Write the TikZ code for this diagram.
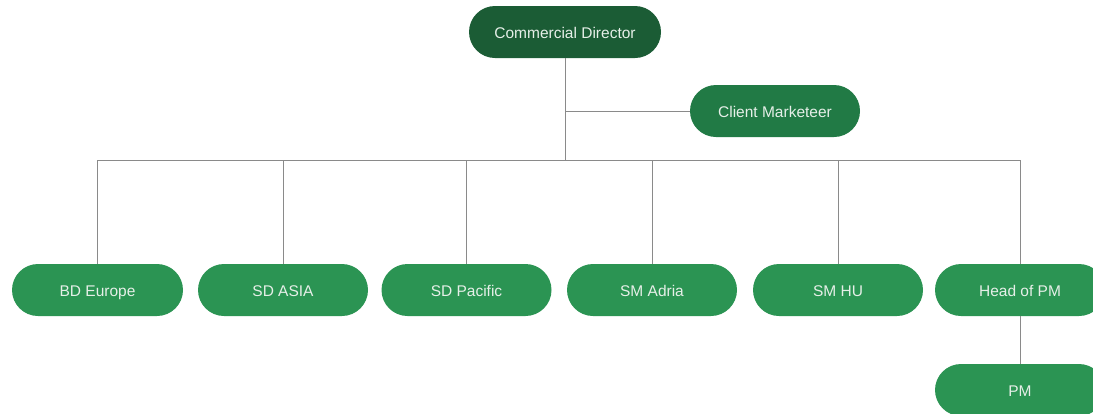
\documentclass[tikz,border=0pt]{standalone}
\usepackage{fontspec}
\setmainfont{Liberation Sans}
\definecolor{cdgreen}{HTML}{1B5C35}
\definecolor{cmgreen}{HTML}{217A45}
\definecolor{nodegreen}{HTML}{2B9453}
\definecolor{txt}{HTML}{E6EFE8}
\definecolor{linegray}{HTML}{8A8A8A}
\begin{document}
\begin{tikzpicture}[x=1pt,y=-1pt,
  pill/.style={rounded corners=26pt, minimum height=52pt, inner sep=0pt,
    text height=13pt, text depth=1pt,
    text=txt, font=\fontsize{15.5}{17}\selectfont, draw=none},
  conn/.style={draw=linegray, line width=0.9pt}]
\useasboundingbox (0,0) rectangle (1093,413);
\clip (0,0) rectangle (1093,413);
\node[pill, fill=cdgreen, minimum width=192pt] (cd) at (565,32) {Commercial Director};
\node[pill, fill=cmgreen, minimum width=170pt] (cm) at (775,111) {Client Marketeer};
\node[pill, fill=nodegreen, minimum width=171pt] (bd) at (97.5,290) {BD Europe};
\node[pill, fill=nodegreen, minimum width=170pt] (sda) at (283,290) {SD ASIA};
\node[pill, fill=nodegreen, minimum width=170pt] (sdp) at (466.5,290) {SD Pacific};
\node[pill, fill=nodegreen, minimum width=170pt] (sma) at (652,290) {SM Adria};
\node[pill, fill=nodegreen, minimum width=170pt] (smh) at (838,290) {SM HU};
\node[pill, fill=nodegreen, minimum width=170pt] (hpm) at (1020,290) {Head of PM};
\node[pill, fill=nodegreen, minimum width=170pt] (pm) at (1020,390) {PM};
\coordinate (bus) at (565,160);
\coordinate (cmj) at (565,111);
\draw[conn] (cd.south) -- (bus);
\draw[conn] (cmj) -- (cm.west);
\draw[conn] (bd.north) |- (bus);
\draw[conn] (sda.north) |- (bus);
\draw[conn] (sdp.north) |- (bus);
\draw[conn] (sma.north) |- (bus);
\draw[conn] (smh.north) |- (bus);
\draw[conn] (hpm.north) |- (bus);
\draw[conn] (hpm.south) -- (pm.north);
\end{tikzpicture}
\end{document}
